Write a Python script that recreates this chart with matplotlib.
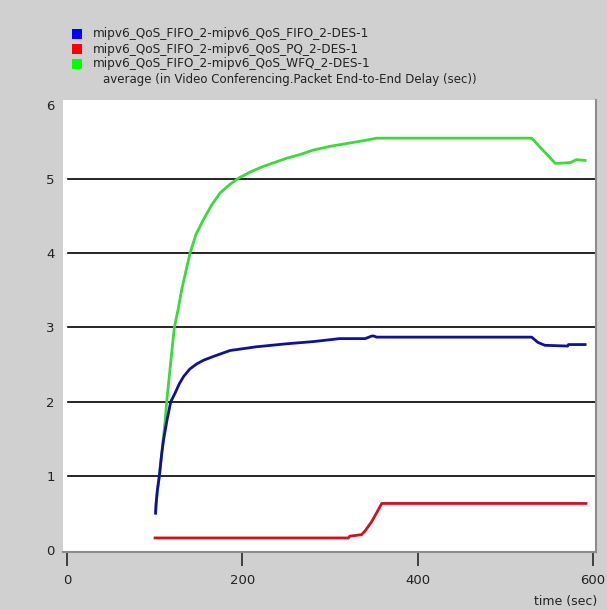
import matplotlib
matplotlib.use('Agg')
import matplotlib.pyplot as plt
from matplotlib.patches import Rectangle

# series (time in sec, delay in sec)
series_names = ['mipv6_QoS_FIFO_2-mipv6_QoS_FIFO_2-DES-1',
                'mipv6_QoS_FIFO_2-mipv6_QoS_PQ_2-DES-1',
                'mipv6_QoS_FIFO_2-mipv6_QoS_WFQ_2-DES-1']
subtitle = 'average (in Video Conferencing.Packet End-to-End Delay (sec))'

fifo_t = [101, 101.5, 103, 105.3, 108, 110, 114, 118.3, 123, 128, 133, 140, 148, 156,
          167, 186, 216, 250, 281, 311, 340, 347.6, 350, 353, 530, 537, 545, 571, 572, 591]
fifo_d = [0.50, 0.62, 0.80, 1.00, 1.30, 1.48, 1.75, 2.00, 2.11, 2.24, 2.34, 2.44, 2.51, 2.56,
          2.61, 2.69, 2.74, 2.78, 2.81, 2.85, 2.85, 2.885, 2.885, 2.87, 2.87, 2.80, 2.76, 2.75, 2.77, 2.77]

pq_t = [100.4, 321, 322.6, 330, 336, 340, 347.5, 353, 359, 592]
pq_d = [0.165, 0.165, 0.19, 0.20, 0.21, 0.26, 0.385, 0.50, 0.63, 0.63]

wfq_t = [101, 103, 105.3, 108, 111.8, 113.7, 118, 122.4, 127, 130.8, 140.3, 147, 155.5, 165,
         174.5, 185, 195.4, 210, 224, 250.6, 266, 281, 300, 320, 340, 353, 530, 557, 574, 581, 591]
wfq_d = [0.50, 0.80, 1.00, 1.30, 1.73, 2.00, 2.50, 3.00, 3.26, 3.51, 4.00, 4.25, 4.45, 4.65,
         4.81, 4.92, 5.01, 5.10, 5.17, 5.28, 5.33, 5.39, 5.44, 5.48, 5.52, 5.55, 5.55, 5.21, 5.22, 5.26, 5.25]

x_ticks = [0, 200, 400, 600]
y_ticks = [0, 1, 2, 3, 4, 5, 6]

line_colors = ['#10109a', '#d01020', '#3cd83c']
key_colors = ['#0000ff', '#ff0000', '#00ff00']
bg = '#d0d0d0'

fig = plt.figure(figsize=(6.07, 6.10), dpi=100, facecolor=bg)
W, H = 607.0, 610.0
ax = fig.add_axes([63 / W, 1 - 552 / H, 533 / W, 452 / H])
ax.set_facecolor('white')

ax.set_xlim(-4.6, 603.4)
ax.set_ylim(-0.024, 6.064)

for g in y_ticks[1:-1]:
    ax.axhline(g, xmin=0.009, xmax=1.0, color='black', lw=1.2, zorder=1)

ax.plot(wfq_t, wfq_d, color=line_colors[2], lw=2.0, zorder=2)
ax.plot(pq_t, pq_d, color=line_colors[1], lw=2.0, zorder=3)
ax.plot(fifo_t, fifo_d, color=line_colors[0], lw=2.0, zorder=4)

for s in ['left', 'top']:
    ax.spines[s].set_visible(False)
for s in ['bottom', 'right']:
    ax.spines[s].set_color('#8c8c8c')
    ax.spines[s].set_linewidth(1.5)

ax.set_xticks(x_ticks)
ax.set_xticklabels([str(v) for v in x_ticks])
ax.set_yticks(y_ticks)
ax.set_yticklabels([str(v) for v in y_ticks])
ax.tick_params(axis='x', direction='out', length=10, width=1.4, color='#404040',
               pad=6, labelsize=9.5, labelcolor='#222222')
ax.tick_params(axis='y', length=0, pad=6, labelsize=9.5, labelcolor='#222222')

fig.text(597 / W, 1 - 601 / H, 'time (sec)', ha='right', va='center',
         fontsize=9, color='#222222')

# legend block at the top
rows_y = [34, 49, 64]
for name, col, ry in zip(series_names, key_colors, rows_y):
    fig.patches.append(Rectangle((72 / W, 1 - (ry + 5) / H), 10 / W, 10 / H,
                                 transform=fig.transFigure, facecolor=col,
                                 edgecolor='none'))
    fig.text(93 / W, 1 - ry / H, name, ha='left', va='center', fontsize=8.7,
             color='#222222')
fig.text(103 / W, 1 - 80 / H, subtitle, ha='left', va='center', fontsize=8.5,
         color='#222222')

fig.savefig('out.png', dpi=100, facecolor=bg)
